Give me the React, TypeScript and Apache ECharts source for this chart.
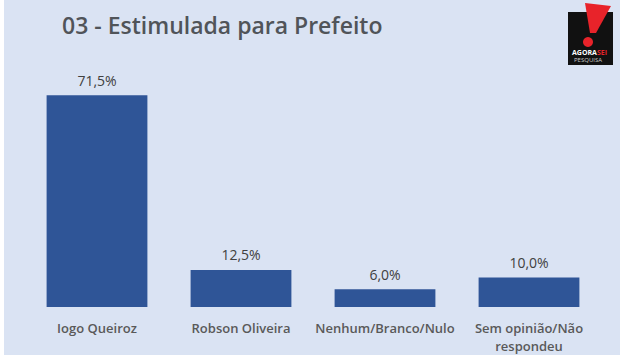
import React, { useEffect, useRef } from "react";
import * as echarts from "echarts";

const titleText = "03 - Estimulada para Prefeito";
const categories = ["Iogo Queiroz", "Robson Oliveira", "Nenhum/Branco/Nulo", "Sem opinião/Não\nrespondeu"];
const values = [71.5, 12.5, 6.0, 10.0];

const fmt = (v: number) => v.toFixed(1).replace(".", ",") + "%";

export default function App() {
  const ref = useRef<HTMLDivElement>(null);
  useEffect(() => {
    document.body.style.margin = "0";
    const chart = echarts.init(ref.current!, undefined, { renderer: "svg" });
    chart.setOption({
      animation: false,
      backgroundColor: "#ffffff",
      grid: { left: 25, right: 29, top: 70, bottom: 53 },
      xAxis: {
        type: "category",
        data: categories,
        axisLine: { show: false },
        axisTick: { show: false },
        axisLabel: {
          color: "#595959",
          fontFamily: "Open Sans",
          fontWeight: 600,
          fontSize: 13,
          margin: 12,
          lineHeight: 18,
          interval: 0,
        },
      },
      yAxis: { type: "value", min: 0, max: 80, show: false, splitLine: { show: false } },
      graphic: [
        { type: "rect", z: -10, shape: { x: 4, y: 0, width: 616, height: 355 }, style: { fill: "#dae3f3" } },
        {
          type: "text", left: 62, top: 13,
          style: { text: titleText, fill: "#505459", font: "600 23px 'Open Sans'" },
        },
        { type: "rect", shape: { x: 568, y: 12, width: 45, height: 53 }, style: { fill: "#111111" } },
        {
          type: "polygon",
          shape: { points: [[585, 3], [611, 6], [596, 33], [590, 33]] },
          style: { fill: "#e8232a" },
        },
        { type: "circle", shape: { cx: 588, cy: 42, r: 5 }, style: { fill: "#e8232a" } },
        {
          type: "text", x: 572, y: 49,
          style: {
            text: "{a|AGORA}{b|SEI}",
            rich: {
              a: { fill: "#ffffff", font: "bold 7px 'Open Sans'" },
              b: { fill: "#e8232a", font: "bold 7px 'Open Sans'" },
            },
          },
        },
        {
          type: "text", x: 574, y: 57,
          style: { text: "PESQUISA", fill: "#cccccc", font: "6px 'Open Sans'" },
        },
      ],
      series: [
        {
          type: "bar",
          data: values,
          barWidth: "70%",
          itemStyle: { color: "#2f5597" },
          label: {
            show: true,
            position: "top",
            distance: 8,
            color: "#404040",
            fontFamily: "Open Sans",
            fontSize: 14,
            formatter: (p: any) => fmt(p.value),
          },
        },
      ],
    });
    return () => chart.dispose();
  }, []);
  return <div ref={ref} style={{ width: 630, height: 360, position: "fixed", left: 0, top: 0 }} />;
}
